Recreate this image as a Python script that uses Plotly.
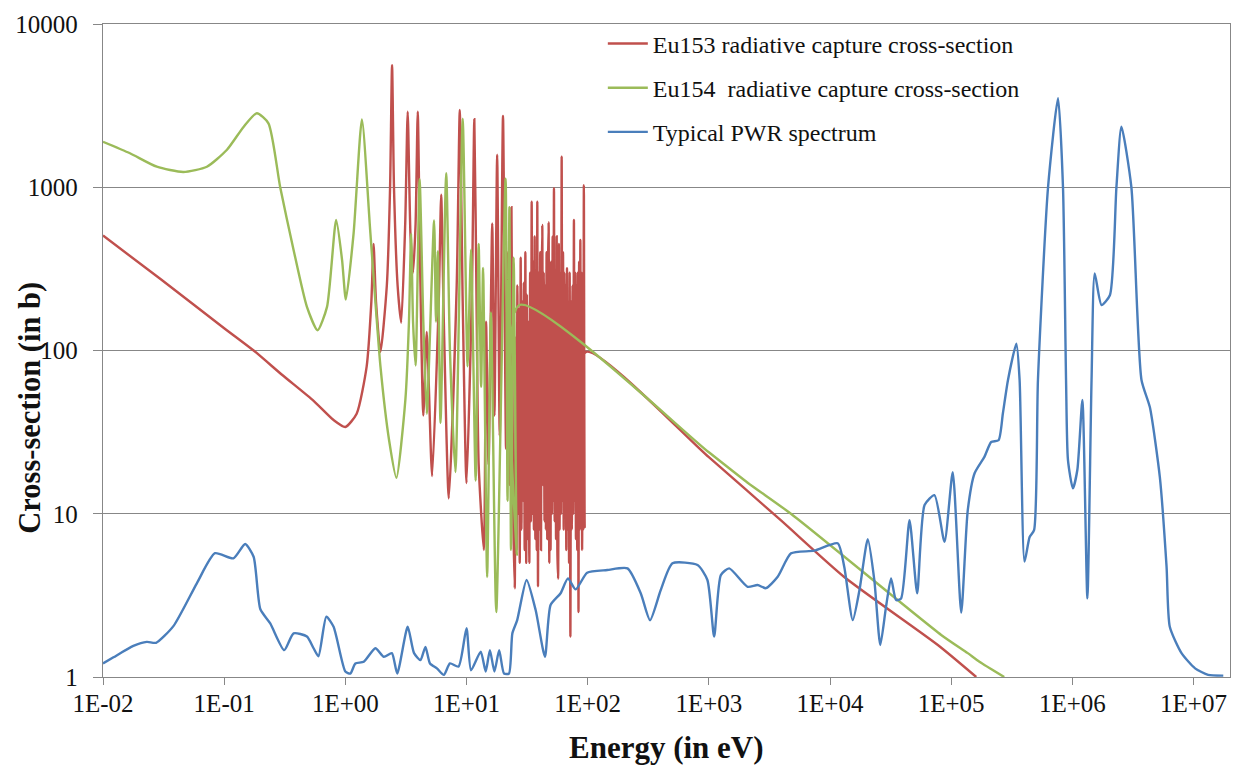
import plotly.graph_objects as go

# ---------------- data ----------------
# Eu153 radiative capture cross-section (energy in eV, cross-section in b)
eu153_energy = [0.01, 0.03, 0.1, 0.175, 0.3, 0.55, 0.8, 1.0, 1.24, 1.5, 1.64, 1.71, 1.79, 1.95,
                2.2, 2.34, 2.43, 2.52, 2.7, 2.89, 3.12, 3.27, 3.45, 3.62, 3.8, 3.96, 4.15, 4.4,
                4.7, 5.2, 5.9, 6.18, 6.5, 7.14, 8.3, 8.8, 9.3, 10.0, 11.1, 11.6, 12.1, 12.6,
                13.9, 14.5, 15.2, 16.3, 17.0, 17.9, 18.8, 20.0, 21.2, 22.0, 22.7, 23.5, 24.3,
                25.0, 25.5, 25.9, 26.3, 26.7, 27.1, 27.5, 28.0, 28.4, 28.8, 29.3, 29.7, 30.2,
                30.6, 31.1, 31.5, 32.0, 32.5, 33.0, 33.5, 34.0, 34.5, 35.0, 35.5, 36.0, 36.5,
                37.0, 37.5, 38.0, 38.4, 38.9, 39.5, 40.0, 40.6, 41.2, 41.7, 42.2, 42.8, 43.4,
                44.0, 44.6, 45.2, 45.8, 46.4, 47.0, 47.6, 48.2, 48.8, 49.4, 50.0, 50.7, 51.4,
                52.0, 52.7, 53.4, 54.1, 54.8, 55.5, 56.2, 57.0, 57.8, 58.6, 59.4, 60.2, 61.0,
                61.8, 62.6, 63.4, 64.2, 65.0, 65.8, 66.6, 67.5, 68.4, 69.3, 70.2, 71.0, 72.0,
                73.0, 74.0, 75.0, 76.0, 77.0, 78.0, 79.0, 80.0, 81.0, 82.0, 83.0, 84.0, 85.0,
                86.0, 87.0, 88.0, 89.0, 90.0, 91.0, 92.0, 93.0, 94.5, 97.0,
                1000, 3940, 13100, 77600, 161000]
eu153_xs = [506, 273, 137, 100, 71, 49, 37.5, 34, 41, 80, 200, 450, 200, 98,
            250, 1000, 5600, 1000, 250, 148, 600, 2900, 500, 300, 600, 2900, 300, 40,
            130, 17, 200, 900, 150, 12.4, 250, 2970, 200, 15.4, 250, 2610, 200, 20,
            6, 150, 20, 600, 40, 1580, 30, 2730, 25, 400, 15, 755, 10,
            3.5, 120, 6, 250, 10, 180, 5, 370, 8, 200, 12, 260, 6,
            400, 5, 220, 7, 150, 5, 300, 9, 815, 10, 350, 8, 500,
            7, 280, 6, 815, 3.6, 300, 8, 400, 6, 250, 587, 15, 300,
            9, 250, 8, 400, 7, 300, 610, 5, 200, 6, 350, 10, 500,
            12, 985, 9, 300, 7, 500, 6, 4, 450, 8, 300, 10, 1540,
            12, 400, 8, 300, 10, 250, 6, 319, 8, 200, 5, 300, 1.77,
            200, 8, 250, 10, 630, 12, 300, 7, 250, 6, 300, 2.5, 350,
            8, 475, 10, 300, 6, 200, 8, 1030, 8.3, 98,
            22.2, 9.1, 4.1, 1.57, 1.0]

# Eu154 radiative capture cross-section
eu154_energy = [0.01, 0.0167, 0.0278, 0.046, 0.072, 0.105, 0.145, 0.186, 0.232, 0.29, 0.374,
                0.482, 0.59, 0.706, 0.84, 0.94, 1.01, 1.17, 1.37, 1.61, 1.95, 2.3, 2.64, 3.13,
                3.35, 3.49, 3.62, 3.8, 4.1, 4.4, 4.7, 5.4, 5.6, 5.8, 6.1, 6.8, 7.3, 8.1, 9.3,
                10.2, 10.9, 11.9, 12.6, 13.2, 13.7, 14.8, 15.9, 17.6, 21.0, 21.8, 22.6, 23.3,
                24.5, 26.0, 27.3, 1000, 2090, 4760, 82700, 137000, 171000, 274000]
eu154_xs = [1900, 1615, 1336, 1240, 1336, 1690, 2350, 2840, 2465, 1000, 413,
            185, 133, 185, 630, 358, 205, 522, 2600, 522, 79.6, 28, 16.6, 50,
            150, 520, 150, 81, 1120, 150, 41, 625, 150, 406, 36, 1220, 100, 18, 2630,
            80, 414, 16, 450, 60, 320, 4.1, 171, 2.5, 1130, 12, 755, 6,
            370, 5.6, 190, 23.8, 15.5, 10, 1.81, 1.4, 1.24, 1.0]

# Typical PWR spectrum (arbitrary units on the same scale)
pwr_energy = [0.01, 0.0122, 0.0178, 0.023, 0.0274, 0.0381, 0.0595, 0.084, 0.119, 0.149, 0.175,
              0.199, 0.24, 0.313, 0.374, 0.482, 0.547, 0.6, 0.697, 0.8, 1.0, 1.1, 1.21, 1.42,
              1.77, 2.08, 2.42, 2.68, 3.27, 3.69, 4.17, 4.58, 5.0, 5.7, 6.5, 7.3, 8.6, 10.0,
              10.9, 13.1, 14.4, 15.6, 17.0, 18.6, 20.4, 22.4, 23.9, 26.2, 31.3, 37.2, 44.4,
              49.4, 59.8, 68.7, 79.6, 99, 145, 213, 274, 327, 401, 501, 807, 973, 1106, 1256,
              1472, 2090, 2525, 2960, 3700, 4770, 7410, 11560, 13100, 15400, 17500, 20500,
              23200, 26000, 29000, 31900, 35100, 38600, 45300, 52400, 60300, 72800, 88100,
              103000, 121000, 137000, 156000, 188000, 214000, 246000, 267000, 294000, 345000,
              367000, 403000, 444000, 483000, 520000, 630000, 762000, 837000, 887000, 920000,
              1010000, 1100000, 1210000, 1330000, 1440000, 1530000, 1740000, 2040000, 2310000,
              2540000, 3070000, 3720000, 4360000, 5270000, 5990000, 6370000, 7960000,
              10300000, 13200000, 17600000]
pwr_flux = [1.21, 1.32, 1.55, 1.64, 1.62, 2.05, 3.75, 5.73, 5.33, 6.53, 5.45,
            2.6, 2.13, 1.46, 1.85, 1.77, 1.5, 1.34, 2.34, 2.03, 1.08, 1.05, 1.21, 1.24,
            1.5, 1.33, 1.4, 1.05, 2.03, 1.4, 1.27, 1.53, 1.21, 1.13, 1.03, 1.21, 1.16, 1.99,
            1.1, 1.43, 1.08, 1.46, 1.08, 1.46, 1.05, 1.05, 1.85, 2.23, 3.93, 2.57, 1.33,
            2.76, 3.26, 4.02, 3.44, 4.35, 4.52, 4.63, 3.26, 2.23, 3.41, 4.97, 4.85, 3.93, 1.77, 4.21,
            4.63, 3.57, 3.66, 3.5, 4.11, 5.72, 5.94, 6.6, 4.74, 2.23, 3.41, 6.98,
            3.93, 1.57, 2.7, 4.02, 2.96, 3.03, 9.14, 3.26, 11.3, 13.0, 6.73,
            18, 2.48, 10.5, 17.7, 22.3, 27.5, 28.2, 41.1, 65.8, 110,
            66, 5.09, 7.2, 7.93, 66, 1000, 3510, 1000, 66, 21.3,
            14.3, 18.6, 49.7, 3.03, 66, 296, 190, 218, 1000,
            2350, 1000, 66, 45, 16.8, 4.74, 2.03, 1.4,
            1.13, 1.03, 1.02]

x_tick_values = [1e-2, 1e-1, 1e0, 1e1, 1e2, 1e3, 1e4, 1e5, 1e6, 1e7]
x_tick_labels = ["1E-02", "1E-01", "1E+00", "1E+01", "1E+02", "1E+03", "1E+04", "1E+05", "1E+06", "1E+07"]
y_tick_values = [1, 10, 100, 1000, 10000]
y_tick_labels = ["1", "10", "100", "1000", "10000"]

series_names = ["Eu153 radiative capture cross-section",
                "Eu154\u00a0 radiative capture cross-section",
                "Typical PWR spectrum"]
x_title = "Energy (in eV)"
y_title = "Cross-section (in b)"

# ---------------- figure ----------------
RED, GREEN, BLUE = "#C0504D", "#9BBB59", "#4A7EBB"
GRID = "#878787"
FONT = "Liberation Serif"
TXT = "#111111"

fig = go.Figure()
fig.add_trace(go.Scatter(x=eu153_energy, y=eu153_xs, mode="lines", name=series_names[0],
                         legendgroup="a",
                         line=dict(color=RED, width=2.4, shape="spline", smoothing=0.6)))
fig.add_trace(go.Scatter(x=eu154_energy, y=eu154_xs, mode="lines", name=series_names[1],
                         legendgroup="b",
                         line=dict(color=GREEN, width=2.4, shape="spline", smoothing=0.6)))
fig.add_trace(go.Scatter(x=pwr_energy, y=pwr_flux, mode="lines", name=series_names[2],
                         legendgroup="c",
                         line=dict(color=BLUE, width=2.4, shape="spline", smoothing=0.6)))

fig.update_layout(
    width=1239, height=767,
    margin=dict(l=103, r=9, t=24, b=90),
    paper_bgcolor="white", plot_bgcolor="white",
    font=dict(family=FONT, size=25, color=TXT),
    showlegend=True,
    legend=dict(x=0.4435, y=1.004, xanchor="left", yanchor="top",
                bgcolor="rgba(0,0,0,0)", font=dict(family=FONT, size=24, color=TXT),
                tracegroupgap=10, itemwidth=40),
    xaxis=dict(type="log", range=[-2, 7.301], tickvals=x_tick_values, ticktext=x_tick_labels,
               ticks="outside", ticklen=7, tickcolor=GRID, tickwidth=1.3,
               ticklabelstandoff=-3,
               showline=True, linecolor=GRID, linewidth=1.3, mirror=True,
               showgrid=False, zeroline=False,
               tickfont=dict(family=FONT, size=25, color=TXT)),
    yaxis=dict(type="log", range=[0, 4], tickvals=y_tick_values, ticktext=y_tick_labels,
               ticks="outside", ticklen=9, tickcolor=GRID, tickwidth=1.3,
               ticklabelstandoff=10,
               showline=True, linecolor=GRID, linewidth=1.3, mirror=True,
               showgrid=True, gridcolor=GRID, gridwidth=1.3, zeroline=False,
               tickfont=dict(family=FONT, size=25, color=TXT)),
    annotations=[
        dict(text="<b>" + x_title + "</b>", xref="paper", yref="paper", x=0.5, y=-0.108,
             xanchor="center", yanchor="middle", showarrow=False,
             font=dict(family=FONT, size=31, color=TXT)),
        dict(text="<b>" + y_title + "</b>", xref="paper", yref="paper", x=-0.065, y=0.412,
             xanchor="center", yanchor="middle", textangle=-90, showarrow=False,
             font=dict(family=FONT, size=30.5, color=TXT)),
    ],
)

fig.write_html("out.html", config={"displayModeBar": False},
               post_script="document.body.style.margin='0';")
